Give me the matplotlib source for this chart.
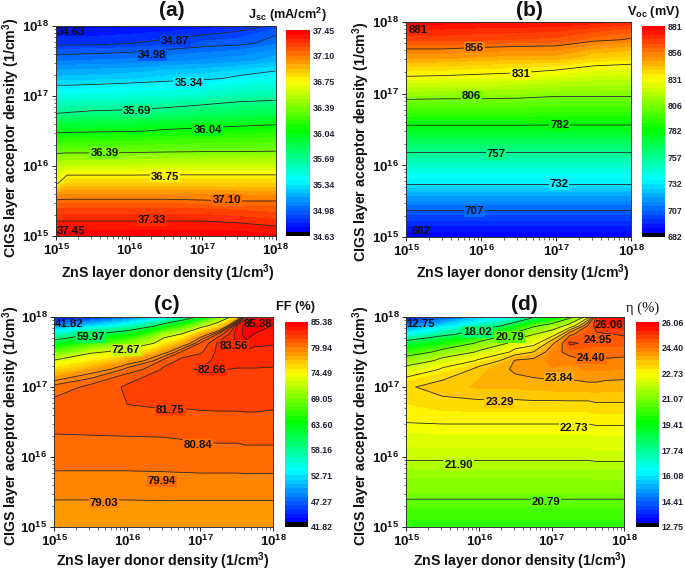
import numpy as np
import matplotlib
matplotlib.use("Agg")
import matplotlib.pyplot as plt
from matplotlib.colors import ListedColormap, LinearSegmentedColormap
from matplotlib.ticker import LogLocator, NullFormatter

plt.rcParams['font.family'] = ['Liberation Sans', 'DejaVu Sans']
plt.rcParams['font.weight'] = 'bold'
plt.rcParams['mathtext.fontset'] = 'custom'
plt.rcParams['mathtext.bf'] = 'Liberation Sans:bold'
plt.rcParams['mathtext.rm'] = 'Liberation Sans:bold'
plt.rcParams['mathtext.default'] = 'bf'

W, H = 685, 572

XLABEL = r'ZnS layer donor density (1/cm$^3$)'
YLABEL = r'CIGS layer acceptor density (1/cm$^3$)'

# --- panel (a) Jsc ---
a_x = [15, 15.15, 15.5, 16, 16.5, 17, 17.5, 18]
a_y = [15, 15.25, 15.5, 15.75, 16, 16.25, 16.5, 16.75, 17, 17.25, 17.5, 17.75, 18]
a_z = [
    [37.42, 37.42, 37.42, 37.42, 37.42, 37.42, 37.42, 37.40],
    [37.31, 37.31, 37.31, 37.31, 37.31, 37.31, 37.29, 37.26],
    [37.12, 37.12, 37.12, 37.12, 37.12, 37.11, 37.10, 37.10],
    [36.73, 36.86, 36.86, 36.86, 36.86, 36.86, 36.86, 36.86],
    [36.54, 36.59, 36.59, 36.59, 36.60, 36.60, 36.60, 36.60],
    [36.31, 36.30, 36.30, 36.31, 36.32, 36.33, 36.33, 36.34],
    [36.00, 36.01, 36.02, 36.03, 36.06, 36.08, 36.10, 36.12],
    [35.69, 35.70, 35.72, 35.73, 35.76, 35.80, 35.83, 35.85],
    [35.46, 35.46, 35.47, 35.49, 35.50, 35.54, 35.60, 35.62],
    [35.24, 35.24, 35.25, 35.27, 35.30, 35.32, 35.37, 35.42],
    [35.03, 35.04, 35.05, 35.06, 35.09, 35.11, 35.14, 35.20],
    [34.85, 34.85, 34.85, 34.87, 34.90, 34.94, 34.96, 35.03],
    [34.72, 34.72, 34.72, 34.73, 34.75, 34.77, 34.82, 34.90],
]
a_lines = [34.87, 34.98, 35.34, 35.69, 36.04, 36.39, 36.75, 37.10, 37.33]
a_ticks = [34.63, 34.98, 35.34, 35.69, 36.04, 36.39, 36.75, 37.10, 37.45]
a_labels = [(34.87, 16.63, 17.78), (34.98, 16.31, 17.59), (35.34, 16.81, 17.18), (35.69, 16.10, 16.78),
            (36.04, 17.07, 16.51), (36.39, 15.66, 16.18), (36.75, 16.49, 15.85), (37.10, 17.33, 15.52),
            (37.33, 16.31, 15.23)]
a_corner = [('34.63', 15.21, 17.91), ('37.45', 15.20, 15.07)]

# --- panel (b) Voc ---
b_x = [15, 15.5, 16, 16.5, 17, 17.5, 18]
b_y = [15, 15.25, 15.5, 15.75, 16, 16.25, 16.5, 16.75, 17, 17.25, 17.5, 17.75, 18]
b_z = [
    [687, 687, 687, 687, 687, 687, 687],
    [700, 700, 700, 700, 700, 700, 700],
    [715, 715, 715, 715, 715, 715, 715],
    [733, 733, 733, 733, 733, 733, 733],
    [747, 747, 747, 747, 747, 747, 747],
    [762, 762, 762, 762, 762, 762, 762],
    [779, 779, 779, 779, 779, 779, 779],
    [795, 795, 795, 795, 794, 794, 794],
    [813, 812, 812, 811, 809, 809, 809],
    [832, 831, 830, 829, 826, 823, 822],
    [849, 849, 847, 846, 846, 840, 838],
    [866, 866, 865, 864, 863, 858, 855],
    [879, 879, 878, 878, 877, 875, 872],
]
b_lines = [707, 732, 757, 782, 806, 831, 856]
b_ticks = [682, 707, 732, 757, 782, 806, 831, 856, 881]
b_labels = [(856, 15.91, 17.64), (831, 16.53, 17.27), (806, 15.87, 16.96), (782, 17.05, 16.56),
            (757, 16.20, 16.16), (732, 17.04, 15.74), (707, 15.91, 15.37)]
b_corner = [('881', 15.16, 17.88), ('682', 15.20, 15.09)]

# --- panel (c) FF ---
c_x = [15, 15.5, 16, 16.5, 16.75, 17, 17.25, 17.5, 17.625, 17.75, 18]
c_y = [15, 15.5, 16, 16.5, 16.75, 17, 17.25, 17.375, 17.5, 17.625, 17.75, 17.875, 18]
c_z = [
    [78.2, 78.2, 78.2, 78.2, 78.2, 78.2, 78.2, 78.2, 78.2, 78.2, 78.2],
    [79.45, 79.45, 79.45, 79.5, 79.5, 79.5, 79.5, 79.5, 79.5, 79.5, 79.5],
    [80.5, 80.5, 80.5, 80.5, 80.55, 80.6, 80.6, 80.6, 80.65, 80.65, 80.65],
    [81.15, 81.2, 81.25, 81.3, 81.35, 81.45, 81.5, 81.5, 81.5, 81.5, 81.5],
    [81.1, 81.4, 81.75, 81.95, 81.9, 81.95, 81.95, 81.95, 82.0, 82.0, 81.9],
    [80.35, 81.2, 81.95, 82.2, 82.3, 82.3, 82.35, 82.35, 82.4, 82.4, 82.15],
    [75.9, 78.2, 80.4, 81.95, 82.6, 82.7, 82.7, 82.6, 82.6, 82.6, 82.55],
    [73.0, 75.2, 78.0, 81.25, 82.05, 82.3, 83.0, 83.0, 83.0, 83.0, 83.0],
    [67.7, 72.2, 74.2, 78.5, 81.05, 81.6, 83.0, 83.3, 83.4, 83.3, 83.3],
    [62.0, 66.4, 69.0, 75.0, 77.8, 81.0, 82.9, 83.7, 84.3, 83.75, 83.65],
    [56.0, 60.0, 63.0, 71.0, 73.2, 77.9, 81.3, 84.1, 84.8, 84.4, 84.0],
    [49.0, 52.0, 55.5, 62.0, 66.0, 71.0, 75.5, 83.6, 84.9, 85.0, 84.4],
    [43.2, 44.5, 47.5, 52.0, 56.0, 61.0, 68.0, 76.0, 83.0, 85.1, 84.8],
]
c_lines = [59.97, 72.67, 79.03, 79.94, 80.84, 81.75, 82.66, 83.56, 84.47]
c_ticks = [41.82, 47.27, 52.71, 58.16, 63.60, 69.05, 74.49, 79.94, 85.38]
c_labels = [(59.97, 15.50, 17.72), (72.67, 15.98, 17.53), (82.66, 17.16, 17.24), (83.56, 17.46, 17.58),
            (81.75, 16.59, 16.67), (80.84, 16.97, 16.17), (79.94, 16.47, 15.65), (79.03, 15.68, 15.35)]
c_corner = [('41.82', 15.20, 17.90), ('85.38', 17.79, 17.90)]

# --- panel (d) efficiency ---
d_x = [15, 15.5, 16, 16.5, 16.75, 17, 17.25, 17.5, 17.625, 17.75, 18]
d_y = [15, 15.5, 16, 16.5, 16.75, 17, 17.25, 17.375, 17.5, 17.625, 17.75, 17.875, 18]
d_z = [
    [20.1, 20.1, 20.1, 20.1, 20.1, 20.1, 20.1, 20.1, 20.1, 20.1, 20.1],
    [21.1, 21.1, 21.1, 21.1, 21.1, 21.1, 21.1, 21.1, 21.1, 21.1, 21.1],
    [22.05, 22.05, 22.05, 22.05, 22.05, 22.05, 22.05, 22.05, 22.1, 22.1, 22.1],
    [22.75, 22.8, 22.8, 22.8, 22.8, 22.8, 22.8, 22.8, 22.85, 22.85, 22.85],
    [23.0, 23.15, 23.2, 23.2, 23.2, 23.2, 23.2, 23.2, 23.25, 23.25, 23.25],
    [23.25, 23.5, 23.6, 23.6, 23.7, 23.7, 23.75, 23.75, 23.75, 23.7, 23.7],
    [22.2, 22.85, 23.5, 23.95, 24.0, 24.1, 24.0, 24.15, 24.15, 24.15, 24.1],
    [21.4, 22.2, 22.85, 23.9, 24.0, 24.2, 24.2, 24.4, 24.35, 24.35, 24.3],
    [20.16, 21.25, 22.05, 22.95, 23.3, 24.2, 24.6, 24.55, 24.55, 24.55, 24.55],
    [18.6, 19.65, 21.1, 22.3, 22.5, 23.7, 25.05, 24.8, 24.75, 24.75, 24.75],
    [16.5, 17.7, 19.2, 21.3, 21.9, 22.37, 24.3, 24.9, 24.85, 24.9, 25.0],
    [14.8, 15.9, 17.2, 18.9, 20.6, 21.35, 22.25, 24.5, 25.3, 25.4, 25.4],
    [13.2, 14.2, 15.5, 16.5, 17.8, 18.8, 20.5, 22.5, 25.4, 25.8, 25.9],
]
d_lines = [18.02, 20.79, 21.90, 22.73, 23.29, 23.84, 24.40, 24.95]
d_ticks = [12.75, 14.41, 16.08, 17.74, 19.41, 21.07, 22.73, 24.40, 26.06]
d_labels = [(18.02, 15.98, 17.79), (20.79, 16.42, 17.72), (24.95, 17.63, 17.67), (24.40, 17.54, 17.41),
            (23.84, 17.10, 17.13), (23.29, 16.28, 16.78), (22.73, 17.31, 16.42), (21.90, 15.72, 15.89),
            (20.79, 16.92, 15.36)]
d_corner = [('12.75', 15.20, 17.90), ('26.06', 17.79, 17.89)]

rainbow = LinearSegmentedColormap.from_list(
    'r', ['#0000ff', '#00ffff', '#00ff00', '#ffff00', '#ff0000'])
NB = 48
cols = [(0, 0, 0, 1)] + [rainbow(i / (NB - 2)) for i in range(NB - 1)]
cmap = ListedColormap(cols)

fig = plt.figure(figsize=(W / 100, H / 100), dpi=100)


def axpx(l, t, r, b):
    return fig.add_axes([l / W, 1 - b / H, (r - l) / W, (b - t) / H])


def panel(box, cbox, x, y, z, lines, ticks, labels, corners, title, tx, cbtitle, ctx, fmt,
          xl, yl, cbfont=None):
    ax = axpx(*box)
    X, Y = 10.0 ** np.array(x), 10.0 ** np.array(y)
    Z = np.array(z, dtype=float)
    levels = np.linspace(ticks[0], ticks[-1], NB + 1)
    cf = ax.contourf(X, Y, Z, levels=levels, cmap=cmap)
    ax.contour(X, Y, Z, levels=lines, colors='#2a2a2a', linewidths=0.6)
    for lv, a, b in labels:
        ax.text(10.0 ** a, 10.0 ** b, fmt % lv, fontsize=8.2, ha='center', va='center', color='#111111',
                bbox=dict(boxstyle='square,pad=0.08', fc=cf.cmap(cf.norm(lv)), ec='none'))
    for s, a, b in corners:
        ax.text(10.0 ** a, 10.0 ** b, s, fontsize=8.2, ha='center', va='center', color='#111111')
    ax.set_xscale('log')
    ax.set_yscale('log')
    ax.set_xlim(1e15, 1e18)
    ax.set_ylim(1e15, 1e18)
    ax.xaxis.set_major_locator(LogLocator(base=10, numticks=10))
    ax.yaxis.set_major_locator(LogLocator(base=10, numticks=10))
    for ai in (ax.xaxis, ax.yaxis):
        ai.set_minor_locator(LogLocator(base=10, subs=np.arange(2, 10), numticks=10))
        ai.set_minor_formatter(NullFormatter())
    ax.tick_params(which='major', length=3, width=0.7, labelsize=9.5, pad=2, color='#222222', labelcolor='#111111')
    ax.tick_params(which='minor', length=1.8, width=0.5, color='#333333')
    for s in ax.spines.values():
        s.set_linewidth(0.7)
        s.set_color('#333333')
    fig.text(xl[0] / W, 1 - xl[1] / H, XLABEL, fontsize=10.2, ha='center', va='center', color='#111111')
    fig.text(yl[0] / W, 1 - yl[1] / H, YLABEL, fontsize=10.2, ha='center', va='center', rotation=90, color='#111111')
    fig.text(tx / W, 1 - title[1] / H, title[0], fontsize=15, ha='center', va='center', color='#111111')
    cax = axpx(*cbox)
    cb = fig.colorbar(cf, cax=cax, ticks=ticks, drawedges=False)
    cb.outline.set_visible(False)
    cax.minorticks_off()
    cax.tick_params(length=0, pad=2, labelsize=6.4, labelcolor='#222233')
    cax.set_yticklabels([fmt % v for v in ticks])
    kw = dict(fontsize=9.2, ha='center', va='center', color='#111111')
    if cbfont:
        kw.update(cbfont)
    fig.text(ctx[0] / W, 1 - ctx[1] / H, cbtitle, **kw)
    return ax


panel((56, 26, 275.7, 236), (286, 30, 310, 236), a_x, a_y, a_z, a_lines, a_ticks, a_labels, a_corner,
      ('(a)', 11), 172, r'J$_{\mathregular{sc}}$ (mA/cm$^2$)', (287, 15), '%.2f', (168, 273), (11, 138))
panel((406, 21.7, 631, 237.3), (641.7, 26, 665, 237), b_x, b_y, b_z, b_lines, b_ticks, b_labels, b_corner,
      ('(b)', 10), 529, r'V$_{\mathregular{oc}}$ (mV)', (653, 12), '%.0f', (523, 273), (361, 142))
panel((54.3, 317, 273.3, 527), (284.7, 321.7, 307.7, 526.7), c_x, c_y, c_z, c_lines, c_ticks, c_labels, c_corner,
      ('(c)', 305), 167, 'FF (%)', (296, 307), '%.2f', (163, 561), (11, 426))
panel((406.3, 317, 624.3, 527), (635.7, 322, 659, 527), d_x, d_y, d_z, d_lines, d_ticks, d_labels, d_corner,
      ('(d)', 305), 524, '\u03b7 (%)', (643, 308), '%.2f', (520, 561), (361, 426),
      cbfont={'family': 'Liberation Serif', 'fontweight': 'normal', 'fontsize': 10.5})

fig.savefig('out.png', dpi=100)
